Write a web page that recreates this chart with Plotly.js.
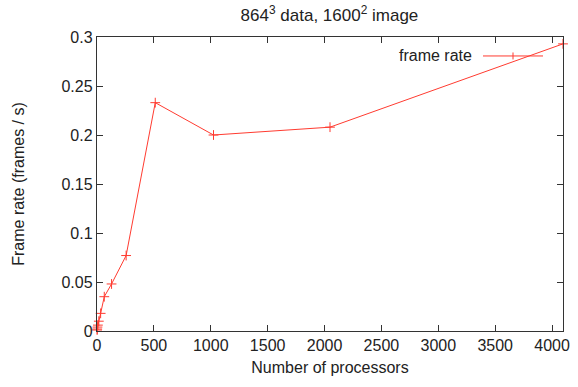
<!DOCTYPE html>
<html>
<head>
<meta charset="utf-8">
<script src="https://cdn.plot.ly/plotly-3.0.1.min.js"></script>
<style>html,body{margin:0;padding:0;background:#fff;}#chart{width:578px;height:387px;}</style>
</head>
<body>
<div id="chart"></div>
<script>
const processors = [1, 2, 4, 8, 16, 32, 64, 128, 256, 512, 1024, 2048, 4096];
const frameRate = [0.001, 0.002, 0.004, 0.006, 0.010, 0.018, 0.035, 0.048, 0.077, 0.233, 0.200, 0.208, 0.293];
const seriesName = "frame rate";
const xTicks = [0, 500, 1000, 1500, 2000, 2500, 3000, 3500, 4000];
const yTicks = [0, 0.05, 0.1, 0.15, 0.2, 0.25, 0.3];

const red = "#ff3b30";
const font = "Liberation Sans, Arial, sans-serif";
const fs = 16;

const trace = {
  x: processors, y: frameRate, type: "scatter", mode: "lines+markers",
  name: seriesName,
  line: {color: red, width: 1},
  marker: {symbol: "cross-thin", size: 7, line: {color: red, width: 1}, color: red},
  showlegend: false, cliponaxis: false
};

const axisCommon = {
  showgrid: false, zeroline: false, showline: true, linecolor: "#333", linewidth: 1.2,
  mirror: "ticks", ticks: "inside", ticklen: 6, tickcolor: "#333", tickwidth: 1,
  tickfont: {family: font, size: fs, color: "#222"}
};

const layout = {
  width: 578, height: 387,
  margin: {l: 97, r: 15, t: 37, b: 55.5},
  paper_bgcolor: "#fff", plot_bgcolor: "#fff",
  title: {text: "864<sup>3</sup> data, 1600<sup>2</sup> image", x: 0.57, xanchor: "center", y: 0.962, yanchor: "middle",
          font: {family: font, size: 17, color: "#222"}},
  xaxis: Object.assign({}, axisCommon, {
    range: [0, 4096], tickvals: xTicks, ticktext: xTicks.map(String),
    title: {text: "Number of processors", font: {family: font, size: fs, color: "#222"}, standoff: 8}
  }),
  yaxis: Object.assign({}, axisCommon, {
    range: [0, 0.3], tickvals: yTicks, ticktext: yTicks.map(v => String(v)),
    title: {text: "Frame rate (frames / s)", font: {family: font, size: fs, color: "#222"}, standoff: 32}
  }),
  annotations: [{
    text: seriesName, xref: "paper", yref: "paper", x: (474 - 97) / 466, y: (331.5 - 56) / 294.5,
    xanchor: "right", yanchor: "middle", showarrow: false,
    font: {family: font, size: fs, color: "#222"}
  }],
  shapes: [
    {type: "line", xref: "paper", yref: "paper", x0: (483 - 97) / 466, x1: (543 - 97) / 466,
     y0: (331.5 - 56) / 294.5, y1: (331.5 - 56) / 294.5, line: {color: red, width: 1}},
    {type: "line", xref: "paper", yref: "paper", x0: (513 - 97) / 466, x1: (513 - 97) / 466,
     y0: (331.5 - 59.5) / 294.5, y1: (331.5 - 52.5) / 294.5, line: {color: red, width: 1}}
  ]
};

Plotly.newPlot("chart", [trace], layout, {displayModeBar: false, staticPlot: true});
</script>
</body>
</html>
